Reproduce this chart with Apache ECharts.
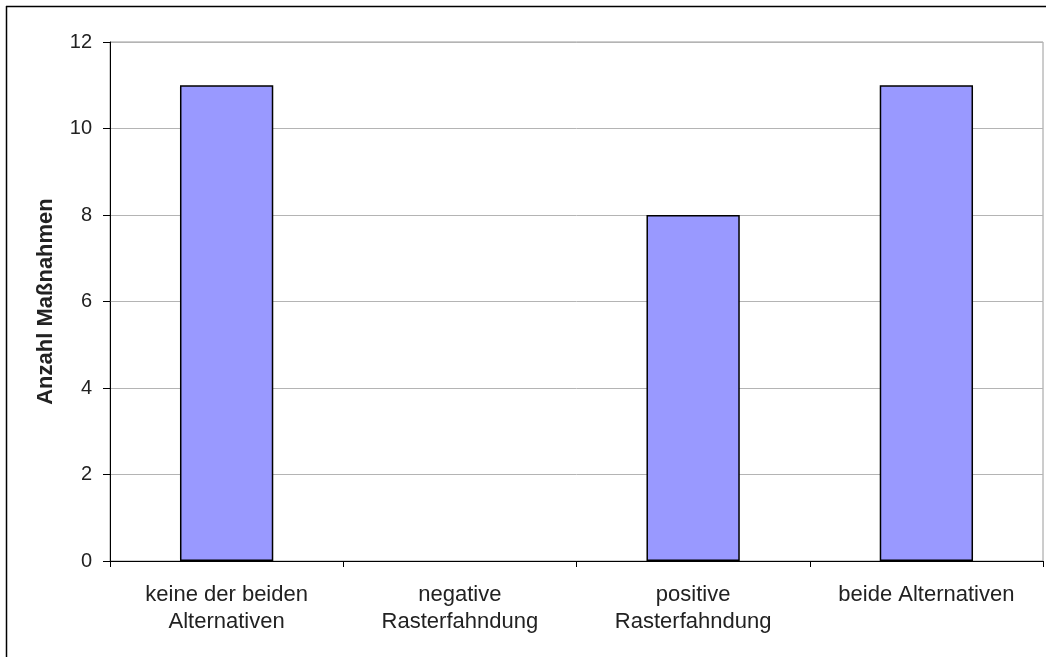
<!DOCTYPE html>
<html>
<head>
<meta charset="utf-8">
<script src="https://cdn.jsdelivr.net/npm/echarts@6/dist/echarts.min.js"></script>
<style>
html,body{margin:0;padding:0;background:#fff;}
#chart{width:1051px;height:657px;}
</style>
</head>
<body>
<div id="chart"></div>
<script>
const categories = ["keine der beiden\nAlternativen", "negative\nRasterfahndung", "positive\nRasterfahndung", "beide Alternativen"];
const values = [11, 0, 8, 11];
const yTicks = { min: 0, max: 12, interval: 2 };
const yName = "Anzahl Maßnahmen";

const chart = echarts.init(document.getElementById('chart'), null, { renderer: 'canvas' });
const font = '"Liberation Sans", Arial, sans-serif';
chart.setOption({
  animation: false,
  backgroundColor: '#fff',
  textStyle: { fontFamily: font },
  graphic: [
    { type: 'line', shape: { x1: 6.5, y1: 6, x2: 6.5, y2: 660 }, style: { stroke: '#000', lineWidth: 1.5 } },
    { type: 'line', shape: { x1: 6, y1: 6.5, x2: 1046, y2: 6.5 }, style: { stroke: '#000', lineWidth: 1.5 } }
  ],
  grid: { left: 110, right: 8, top: 42, bottom: 96, show: true, borderColor: '#9a9a9a', borderWidth: 1, backgroundColor: 'transparent' },
  xAxis: {
    type: 'category',
    data: categories,
    boundaryGap: true,
    axisLine: { lineStyle: { color: '#000', width: 1 } },
    axisTick: { show: true, alignWithLabel: false, interval: 0, length: 6, lineStyle: { color: '#000' } },
    axisLabel: { interval: 0, color: '#222', fontSize: 22, lineHeight: 27, margin: 20, fontFamily: font }
  },
  yAxis: {
    type: 'value',
    min: yTicks.min, max: yTicks.max, interval: yTicks.interval,
    name: yName,
    nameLocation: 'middle',
    nameGap: 53,
    nameTextStyle: { fontSize: 22, fontWeight: 'bold', color: '#222', fontFamily: font },
    axisLine: { show: true, lineStyle: { color: '#000', width: 1 } },
    axisTick: { show: true, length: 7, lineStyle: { color: '#000' } },
    axisLabel: { color: '#222', fontSize: 20, margin: 18, fontFamily: font },
    splitLine: { show: true, lineStyle: { color: '#b4b4b4', width: 1 } }
  },
  series: [{
    type: 'bar',
    data: values.map(v => v === 0 ? { value: v, itemStyle: { borderWidth: 0 } } : v),
    barWidth: '40%',
    itemStyle: { color: '#9999FF', borderColor: '#000', borderWidth: 1.5 }
  }]
});
</script>
</body>
</html>
